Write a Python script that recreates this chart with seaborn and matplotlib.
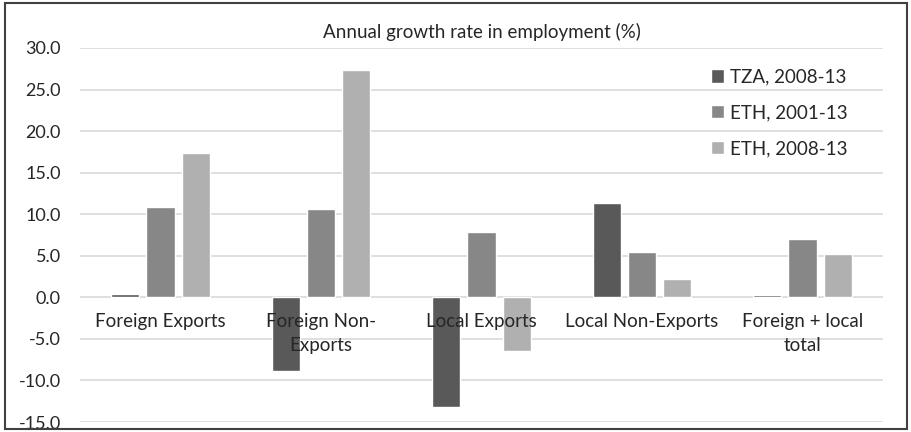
import matplotlib
matplotlib.use("Agg")
import matplotlib.pyplot as plt
import seaborn as sns
import pandas as pd
from matplotlib.patches import Rectangle

categories = ["Foreign Exports", "Foreign Non-\nExports", "Local Exports",
              "Local Non-Exports", "Foreign + local\ntotal"]
series = ["TZA, 2008-13", "ETH, 2001-13", "ETH, 2008-13"]
tza_0813 = [0.4, -8.9, -13.2, 11.4, 0.3]
eth_0113 = [10.9, 10.6, 7.9, 5.5, 7.0]
eth_0813 = [17.4, 27.4, -6.4, 2.2, 5.2]
colors = ["#595959", "#878787", "#b0b0b0"]

df = pd.DataFrame({
    "category": categories * 3,
    "series": [series[0]] * 5 + [series[1]] * 5 + [series[2]] * 5,
    "value": tza_0813 + eth_0113 + eth_0813,
})

sns.set_style("white")
plt.rcParams["font.family"] = ["Lato", "DejaVu Sans"]

fig = plt.figure(figsize=(9.12, 4.32), dpi=100)
ax = fig.add_axes([0.088, 0.023, 0.88, 0.866])

sns.barplot(data=df, x="category", y="value", hue="series", order=categories,
            hue_order=series, palette=colors, width=0.66, gap=0.2,
            saturation=1, ax=ax, zorder=3)

ax.set_ylim(-15, 30)
ax.set_yticks(range(-15, 31, 5))
ax.set_yticklabels([f"{v:.1f}" for v in range(-15, 31, 5)], fontsize=13)
ax.yaxis.grid(True, color="#d9d9d9", linewidth=1.2, zorder=0)
ax.set_axisbelow(True)
ax.set_xlim(-0.5, 4.5)
ax.set_xticks([])
ax.set_xlabel("")
ax.set_ylabel("")
for s in ax.spines.values():
    s.set_visible(False)
ax.tick_params(axis="y", length=0, pad=14)

for i, lab in enumerate(categories):
    ax.text(i, -1.9, lab, ha="center", va="top", fontsize=13.5,
            linespacing=1.5, zorder=5)

ax.set_title("Annual growth rate in employment (%)", fontsize=13.5, pad=7)

ax.legend(loc="upper left", bbox_to_anchor=(0.765, 0.99), frameon=False,
          fontsize=13.5, handlelength=0.7, handleheight=0.7, handletextpad=0.3,
          labelspacing=1.0)

fig.patches.append(Rectangle((0.006, 0.006), 0.988, 0.986, transform=fig.transFigure,
                             fill=False, edgecolor="#404040", linewidth=1.5))

fig.savefig("out.png", dpi=100)
